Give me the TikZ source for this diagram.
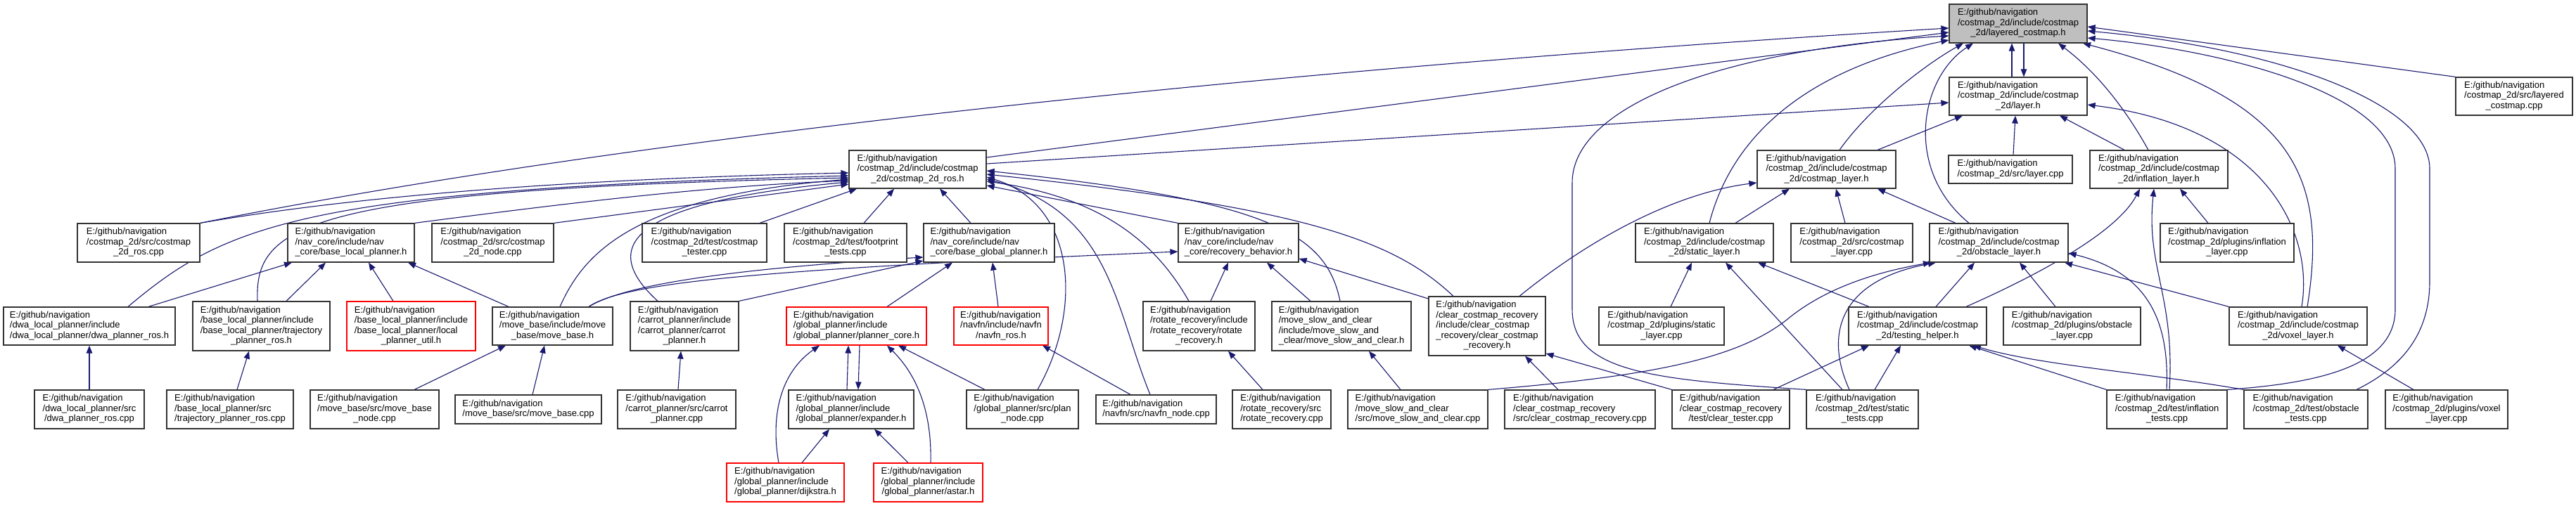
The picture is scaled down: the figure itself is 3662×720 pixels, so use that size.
\documentclass[tikz,border=0pt]{standalone}
\usepackage{fontspec}
\setmainfont{Liberation Sans}
\usetikzlibrary{arrows.meta}
\pgfdeclarelayer{bg}
\pgfsetlayers{bg,main}
\definecolor{edgecol}{HTML}{191970}
\definecolor{rootfill}{HTML}{BFBFBF}
\newcommand\lastl[1]{\multicolumn{1}{@{}c@{}}{#1}}
\newcommand\bx[7]{%
  \pgfmathsetmacro\bxw{#4-#2}\pgfmathsetmacro\bxh{#5-#3}%
  \pgfmathsetmacro\bxcx{(#2+#4)/2}\pgfmathsetmacro\bxcy{(#3+#5)/2}%
  \node[#1, minimum width=\bxw pt, minimum height=\bxh pt] (#6) at (\bxcx,\bxcy) {\begin{tabular}{@{}l@{}}#7\end{tabular}};}
\tikzset{
  box/.style={draw=black!80, line width=1.2pt, fill=white, inner sep=0pt,
    font=\fontsize{13}{14.5}\selectfont},
  redbox/.style={box, draw=red},
  rootbox/.style={box, fill=rootfill},
  edge/.style={draw=edgecol, line width=1.1pt, -{Triangle[length=11pt,width=8.5pt]}},
}
\begin{document}
\begin{tikzpicture}[x=1pt,y=-1pt]
\begin{pgfonlayer}{bg}\fill[white] (0,0) rectangle (3662,720);\end{pgfonlayer}
\useasboundingbox (0,0) rectangle (3662,720);
% row 0-2
\bx{rootbox}{2771}{6}{2967}{61}{lc}{E:/github/navigation\\/costmap\_2d/include/costmap\\\lastl{\_2d/layered\_costmap.h}}
\bx{box}{2771}{110}{2967}{164}{lay}{E:/github/navigation\\/costmap\_2d/include/costmap\\\lastl{\_2d/layer.h}}
\bx{box}{3491}{110}{3657}{164}{lcc}{E:/github/navigation\\/costmap\_2d/src/layered\\\lastl{\_costmap.cpp}}
\bx{box}{1207}{214}{1402}{268}{crh}{E:/github/navigation\\/costmap\_2d/include/costmap\\\lastl{\_2d/costmap\_2d\_ros.h}}
\bx{box}{2498}{214}{2695}{268}{clh}{E:/github/navigation\\/costmap\_2d/include/costmap\\\lastl{\_2d/costmap\_layer.h}}
\bx{box}{2770}{221}{2946}{261}{layc}{E:/github/navigation\\\lastl{/costmap\_2d/src/layer.cpp}}
\bx{box}{2971}{214}{3167}{268}{infh}{E:/github/navigation\\/costmap\_2d/include/costmap\\\lastl{\_2d/inflation\_layer.h}}
% row 3
\bx{box}{110}{318}{284}{373}{crc}{E:/github/navigation\\/costmap\_2d/src/costmap\\\lastl{\_2d\_ros.cpp}}
\bx{box}{409}{318}{589}{373}{blp}{E:/github/navigation\\/nav\_core/include/nav\\\lastl{\_core/base\_local\_planner.h}}
\bx{box}{614}{318}{787}{373}{cnode}{E:/github/navigation\\/costmap\_2d/src/costmap\\\lastl{\_2d\_node.cpp}}
\bx{box}{913}{318}{1090}{373}{ctest}{E:/github/navigation\\/costmap\_2d/test/costmap\\\lastl{\_tester.cpp}}
\bx{box}{1115}{318}{1289}{373}{fpt}{E:/github/navigation\\/costmap\_2d/test/footprint\\\lastl{\_tests.cpp}}
\bx{box}{1313}{318}{1499}{373}{bgp}{E:/github/navigation\\/nav\_core/include/nav\\\lastl{\_core/base\_global\_planner.h}}
\bx{box}{1675}{318}{1846}{373}{rb}{E:/github/navigation\\/nav\_core/include/nav\\\lastl{\_core/recovery\_behavior.h}}
\bx{box}{2325}{318}{2521}{373}{sth}{E:/github/navigation\\/costmap\_2d/include/costmap\\\lastl{\_2d/static\_layer.h}}
\bx{box}{2546}{318}{2719}{373}{clc}{E:/github/navigation\\/costmap\_2d/src/costmap\\\lastl{\_layer.cpp}}
\bx{box}{2743}{318}{2940}{373}{obh}{E:/github/navigation\\/costmap\_2d/include/costmap\\\lastl{\_2d/obstacle\_layer.h}}
\bx{box}{3071}{318}{3261}{373}{infc}{E:/github/navigation\\/costmap\_2d/plugins/inflation\\\lastl{\_layer.cpp}}
% row 4
\bx{box}{5}{437}{249}{491}{dwah}{E:/github/navigation\\/dwa\_local\_planner/include\\\lastl{/dwa\_local\_planner/dwa\_planner\_ros.h}}
\bx{box}{274}{429}{469}{499}{tph}{E:/github/navigation\\/base\_local\_planner/include\\/base\_local\_planner/trajectory\\\lastl{\_planner\_ros.h}}
\bx{redbox}{493}{429}{676}{499}{lpu}{E:/github/navigation\\/base\_local\_planner/include\\/base\_local\_planner/local\\\lastl{\_planner\_util.h}}
\bx{box}{700}{437}{871}{491}{mbh}{E:/github/navigation\\/move\_base/include/move\\\lastl{\_base/move\_base.h}}
\bx{box}{896}{429}{1050}{499}{cph}{E:/github/navigation\\/carrot\_planner/include\\/carrot\_planner/carrot\\\lastl{\_planner.h}}
\bx{redbox}{1118}{437}{1317}{491}{pch}{E:/github/navigation\\/global\_planner/include\\\lastl{/global\_planner/planner\_core.h}}
\bx{redbox}{1356}{437}{1490}{491}{nfh}{E:/github/navigation\\/navfn/include/navfn\\\lastl{/navfn\_ros.h}}
\bx{box}{1625}{429}{1784}{499}{rrh}{E:/github/navigation\\/rotate\_recovery/include\\/rotate\_recovery/rotate\\\lastl{\_recovery.h}}
\bx{box}{1808}{429}{2006}{499}{msch}{E:/github/navigation\\/move\_slow\_and\_clear\\/include/move\_slow\_and\\\lastl{\_clear/move\_slow\_and\_clear.h}}
\bx{box}{2031}{422}{2197}{506}{ccrh}{E:/github/navigation\\/clear\_costmap\_recovery\\/include/clear\_costmap\\\_recovery/clear\_costmap\\\lastl{\_recovery.h}}
\bx{box}{2273}{437}{2451}{491}{stc}{E:/github/navigation\\/costmap\_2d/plugins/static\\\lastl{\_layer.cpp}}
\bx{box}{2628}{437}{2824}{491}{th}{E:/github/navigation\\/costmap\_2d/include/costmap\\\lastl{\_2d/testing\_helper.h}}
\bx{box}{2848}{437}{3043}{491}{obc}{E:/github/navigation\\/costmap\_2d/plugins/obstacle\\\lastl{\_layer.cpp}}
\bx{box}{3169}{437}{3365}{491}{vxh}{E:/github/navigation\\/costmap\_2d/include/costmap\\\lastl{\_2d/voxel\_layer.h}}
% row 5
\bx{box}{49}{555}{205}{610}{dwac}{E:/github/navigation\\/dwa\_local\_planner/src\\\lastl{/dwa\_planner\_ros.cpp}}
\bx{box}{237}{555}{417}{610}{tpc}{E:/github/navigation\\/base\_local\_planner/src\\\lastl{/trajectory\_planner\_ros.cpp}}
\bx{box}{441}{555}{624}{610}{mbn}{E:/github/navigation\\/move\_base/src/move\_base\\\lastl{\_node.cpp}}
\bx{box}{647}{562}{855}{603}{mbc}{E:/github/navigation\\\lastl{/move\_base/src/move\_base.cpp}}
\bx{box}{878}{555}{1046}{610}{cpc}{E:/github/navigation\\/carrot\_planner/src/carrot\\\lastl{\_planner.cpp}}
\bx{box}{1121}{555}{1299}{610}{exh}{E:/github/navigation\\/global\_planner/include\\\lastl{/global\_planner/expander.h}}
\bx{box}{1374}{555}{1533}{610}{pnc}{E:/github/navigation\\/global\_planner/src/plan\\\lastl{\_node.cpp}}
\bx{box}{1558}{562}{1729}{603}{nfc}{E:/github/navigation\\\lastl{/navfn/src/navfn\_node.cpp}}
\bx{box}{1752}{555}{1892}{610}{rrc}{E:/github/navigation\\/rotate\_recovery/src\\\lastl{/rotate\_recovery.cpp}}
\bx{box}{1916}{555}{2115}{610}{mscc}{E:/github/navigation\\/move\_slow\_and\_clear\\\lastl{/src/move\_slow\_and\_clear.cpp}}
\bx{box}{2139}{555}{2353}{610}{ccrc}{E:/github/navigation\\/clear\_costmap\_recovery\\\lastl{/src/clear\_costmap\_recovery.cpp}}
\bx{box}{2377}{555}{2544}{610}{ct}{E:/github/navigation\\/clear\_costmap\_recovery\\\lastl{/test/clear\_tester.cpp}}
\bx{box}{2568}{555}{2727}{610}{stt}{E:/github/navigation\\/costmap\_2d/test/static\\\lastl{\_tests.cpp}}
\bx{box}{2995}{555}{3166}{610}{inft}{E:/github/navigation\\/costmap\_2d/test/inflation\\\lastl{\_tests.cpp}}
\bx{box}{3190}{555}{3366}{610}{obt}{E:/github/navigation\\/costmap\_2d/test/obstacle\\\lastl{\_tests.cpp}}
\bx{box}{3391}{555}{3565}{610}{vxc}{E:/github/navigation\\/costmap\_2d/plugins/voxel\\\lastl{\_layer.cpp}}
% row 6
\bx{redbox}{1033}{659}{1200}{714}{dj}{E:/github/navigation\\/global\_planner/include\\\lastl{/global\_planner/dijkstra.h}}
\bx{redbox}{1242}{659}{1397}{714}{as}{E:/github/navigation\\/global\_planner/include\\\lastl{/global\_planner/astar.h}}

\begin{pgfonlayer}{bg}
% into layered_costmap.h
\draw[edge] (crc.north east) .. controls (983,178) and (1971,88) .. (lc.west |- 0,40);
\draw[edge] (crh.east |- 0,224) -- (lc.west |- 0,46);
\draw[edge] (stt.north west) .. controls (2350,540) and (2235,530) .. (2235,440) -- (2235,260) .. controls (2235,150) and (2450,70) .. (lc.west |- 0,51);
\draw[edge] (sth.north -| 2430,0) .. controls (2460,200) and (2560,100) .. (lc.west |- 0,57);
\draw[edge] (clh.north -| 2615,0) .. controls (2660,150) and (2740,90) .. (lc.south -| 2791,0);
\draw[edge] (obh.north -| 2799,0) .. controls (2705,240) and (2730,110) .. (lc.south -| 2805,0);
\draw[edge] (lay.north -| 2860,0) -- (lc.south -| 2860,0);
\draw[edge] (lc.south -| 2877,0) -- (lay.north -| 2877,0);
\draw[edge] (infh.north -| 3054,0) .. controls (3030,170) and (2990,110) .. (lc.south -| 2926,0);
\draw[edge] (vxh.north -| 3280,0) .. controls (3310,250) and (3260,140) .. (lc.south -| 2961,0);
\draw[edge] (lcc.north west) -- (lc.east |- 0,38);
\draw[edge] (obt.north -| 3350,0) .. controls (3420,520) and (3454,470) .. (3454,400) -- (3454,240) .. controls (3454,150) and (3250,70) .. (lc.east |- 0,44);
\draw[edge] (inft.north east) .. controls (3300,545) and (3405,520) .. (3405,440) -- (3405,240) .. controls (3405,130) and (3150,70) .. (lc.east |- 0,54);
% into layer.h
\draw[edge] (crh.east |- 0,233) -- (lay.west |- 0,146);
\draw[edge] (clh.north -| 2669,0) -- (lay.south -| 2790,0);
\draw[edge] (layc.north -| 2862,0) -- (lay.south -| 2865,0);
\draw[edge] (infh.north -| 3020,0) -- (lay.south -| 2928,0);
\draw[edge] (vxh.north -| 3272,0) .. controls (3290,330) and (3220,180) .. (lay.east |- 0,149);
% into costmap_2d_ros.h
\draw[edge] (crc.north east) .. controls (500,280) and (800,255) .. (crh.west |- 0,246);
\draw[edge] (dwah.north -| 182,0) .. controls (320,320) and (430,270) .. (crh.west |- 0,250);
\draw[edge] (tph.north -| 366,0) .. controls (362,320) and (430,270) .. (crh.west |- 0,253);
\draw[edge] (blp.north east) .. controls (800,290) and (1000,265) .. (crh.west |- 0,257);
\draw[edge] (cnode.north east) -- (crh.west |- 0,262);
\draw[edge] (mbh.north -| 796,0) .. controls (830,360) and (900,280) .. (crh.west |- 0,255);
\draw[edge] (cph.north -| 935,0) .. controls (860,360) and (870,290) .. (crh.west |- 0,259);
\draw[edge] (ctest.north -| 1080,0) -- (crh.south -| 1218,0);
\draw[edge] (fpt.north -| 1228,0) -- (crh.south -| 1271,0);
\draw[edge] (bgp.north -| 1380,0) -- (crh.south -| 1336,0);
\draw[edge] (rb.north west) -- (crh.east |- 0,264);
\draw[edge] (rrh.north -| 1690,0) .. controls (1640,340) and (1560,280) .. (crh.east |- 0,258);
\draw[edge] (msch.north -| 1905,0) .. controls (1885,330) and (1800,285) .. (crh.east |- 0,243);
\draw[edge] (ccrh.north -| 2066,0) .. controls (1980,340) and (1850,295) .. (crh.east |- 0,248);
\draw[edge] (pnc.north -| 1475,0) .. controls (1540,440) and (1530,290) .. (crh.east |- 0,252);
\draw[edge] (nfc.north -| 1635,0) .. controls (1585,440) and (1580,300) .. (crh.east |- 0,255);
% into costmap_layer.h
\draw[edge] (sth.north -| 2467,0) -- (clh.south -| 2544,0);
\draw[edge] (clc.north -| 2623,0) -- (clh.south -| 2610,0);
\draw[edge] (obh.north -| 2780,0) -- (clh.south -| 2669,0);
\draw[edge] (ccrh.north -| 2160,0) .. controls (2260,340) and (2380,275) .. (clh.west |- 0,260);
% into inflation_layer.h
\draw[edge] (infc.north -| 3139,0) -- (infh.south -| 3099,0);
\draw[edge] (th.north -| 2795,0) .. controls (2900,390) and (3010,330) .. (infh.south -| 3042,0);
\draw[edge] (inft.north -| 3084,0) .. controls (3092,420) and (3050,380) .. (infh.south -| 3062,0);
% into base_local_planner.h
\draw[edge] (dwah.north -| 211,0) -- (blp.south -| 415,0);
\draw[edge] (tph.north -| 407,0) -- (blp.south -| 463,0);
\draw[edge] (lpu.north -| 559,0) -- (blp.south -| 524,0);
\draw[edge] (mbh.north -| 723,0) -- (blp.south -| 580,0);
% into base_global_planner.h
\draw[edge] (mbh.north -| 837,0) .. controls (880,410) and (1000,385) .. (bgp.west |- 0,366);
\draw[edge] (cph.north east) -- (bgp.west |- 0,371);
\draw[edge] (pch.north -| 1261,0) -- (bgp.south -| 1354,0);
\draw[edge] (nfh.north -| 1419,0) -- (bgp.south -| 1411,0);
% into recovery_behavior.h
\draw[edge] (mbh.north -| 837,0) .. controls (890,400) and (1100,383) .. (rb.west |- 0,358);
\draw[edge] (rrh.north -| 1721,0) -- (rb.south -| 1746,0);
\draw[edge] (msch.north -| 1863,0) -- (rb.south -| 1801,0);
\draw[edge] (ccrh.west |- 0,425) -- (rb.east |- 0,368);
% into static_layer.h
\draw[edge] (stc.north -| 2375,0) -- (sth.south -| 2405,0);
\draw[edge] (stt.north -| 2619,0) -- (sth.south -| 2453,0);
\draw[edge] (th.north -| 2657,0) -- (sth.south -| 2499,0);
% into obstacle_layer.h
\draw[edge] (th.north -| 2752,0) -- (obh.south -| 2807,0);
\draw[edge] (obc.north -| 2922,0) -- (obh.south -| 2871,0);
\draw[edge] (vxh.north west) -- (obh.south -| 2935,0);
\draw[edge] (inft.north -| 3080,0) .. controls (3085,440) and (3040,385) .. (obh.east |- 0,360);
\draw[edge] (stt.north -| 2629,0) .. controls (2595,480) and (2610,400) .. (obh.south -| 2752,0);
\draw[edge] (mscc.north east) .. controls (2350,535) and (2470,510) .. (2540,455) .. controls (2600,405) and (2680,385) .. (obh.south -| 2745,0);
% into testing_helper.h
\draw[edge] (ct.north -| 2521,0) -- (th.south -| 2657,0);
\draw[edge] (stt.north -| 2665,0) -- (th.south -| 2702,0);
\draw[edge] (inft.north west) -- (th.south -| 2799,0);
\draw[edge] (obt.north west) .. controls (3050,530) and (2900,520) .. (th.south -| 2805,0);
% into clear_costmap_recovery.h
\draw[edge] (ccrc.north -| 2215,0) -- (ccrh.south -| 2168,0);
\draw[edge] (ct.north west) -- (ccrh.east |- 0,503);
% others
\draw[edge] (mscc.north -| 1991,0) -- (msch.south -| 1946,0);
\draw[edge] (rrc.north -| 1795,0) -- (rrh.south -| 1746,0);
\draw[edge] (nfc.north -| 1607,0) -- (nfh.south -| 1482,0);
\draw[edge] (exh.north -| 1204,0) -- (pch.south -| 1206,0);
\draw[edge] (pch.south -| 1222,0) -- (exh.north -| 1220,0);
\draw[edge] (pnc.north -| 1400,0) -- (pch.south -| 1277,0);
\draw[edge] (dj.north -| 1107,0) .. controls (1095,590) and (1110,530) .. (pch.south -| 1165,0);
\draw[edge] (as.north -| 1323,0) .. controls (1325,580) and (1300,530) .. (pch.south -| 1261,0);
\draw[edge] (dj.north -| 1140,0) -- (exh.south -| 1179,0);
\draw[edge] (as.north -| 1291,0) -- (exh.south -| 1243,0);
\draw[edge] (dwac.north -| 127,0) -- (dwah.south -| 127,0);
\draw[edge] (tpc.north -| 337,0) -- (tph.south -| 354,0);
\draw[edge] (mbn.north -| 589,0) -- (mbh.south -| 719,0);
\draw[edge] (mbc.north -| 757,0) -- (mbh.south -| 774,0);
\draw[edge] (cpc.north -| 964,0) -- (cph.south -| 968,0);
\draw[edge] (vxc.north -| 3431,0) -- (vxh.south -| 3323,0);
\end{pgfonlayer}
\end{tikzpicture}
\end{document}
